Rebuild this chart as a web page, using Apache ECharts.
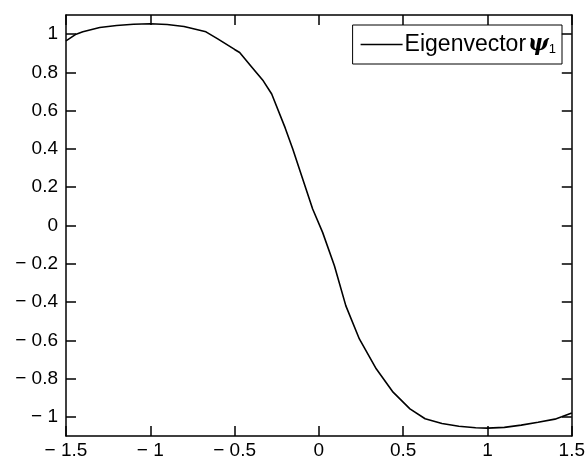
<!DOCTYPE html>
<html>
<head>
<meta charset="utf-8">
<script src="https://cdn.jsdelivr.net/npm/echarts@6/dist/echarts.min.js"></script>
<style>
html, body { margin: 0; padding: 0; background: #fff; }
#main { width: 588px; height: 461px; }
</style>
</head>
<body>
<div id="main"></div>
<script>
// x positions along the curve
var xVals = [-1.5, -1.44, -1.4, -1.3, -1.2, -1.1, -1.0, -0.9, -0.8, -0.67, -0.6, -0.5, -0.47, -0.4, -0.33, -0.28, -0.2, -0.155, -0.1, -0.037, 0.022, 0.092, 0.16, 0.24, 0.34, 0.44, 0.54, 0.63, 0.73, 0.83, 0.93, 1.0, 1.1, 1.2, 1.3, 1.4, 1.44, 1.5];
// eigenvector values
var psiVals = [0.965, 1.0, 1.012, 1.035, 1.045, 1.052, 1.054, 1.05, 1.04, 1.012, 0.975, 0.92, 0.904, 0.83, 0.756, 0.687, 0.51, 0.40, 0.254, 0.086, -0.036, -0.21, -0.42, -0.593, -0.749, -0.871, -0.958, -1.01, -1.035, -1.049, -1.057, -1.059, -1.055, -1.043, -1.028, -1.012, -1.0, -0.98];
var yTicks = [-1, -0.8, -0.6, -0.4, -0.2, 0, 0.2, 0.4, 0.6, 0.8, 1];

var data = xVals.map(function (x, i) { return [x, psiVals[i]]; });

function fmt(v) {
    var s = String(Math.round(Math.abs(v) * 10) / 10);
    return v < 0 ? '\u2212 ' + s : s;
}

var font = 'Liberation Sans, Arial, Helvetica, sans-serif';
var axisLine = { show: true, onZero: false, lineStyle: { color: '#000', width: 1.5 } };
var tick = { inside: true, length: 10, lineStyle: { color: '#000', width: 1.5 } };

var option = {
    animation: false,
    backgroundColor: '#fff',
    grid: { left: 66, right: 15, top: 15, bottom: 25 },
    legend: {
        right: 26,
        top: 25,
        padding: [8, 6, 8, 8],
        borderColor: '#000',
        borderWidth: 1,
        itemWidth: 42,
        itemHeight: 1.5,
        itemGap: 0,
        icon: 'rect',
        data: ['psi'],
        formatter: function () { return '{a|Eigenvector}{b|ψ}{c|1}'; },
        textStyle: {
            color: '#000',
            fontFamily: font,
            fontSize: 23,
            padding: [0, 0, 0, -3],
            rich: {
                a: { fontSize: 23, fontFamily: font, color: '#000' },
                b: { fontSize: 22, fontFamily: 'DejaVu Serif, serif', fontWeight: 'bold', fontStyle: 'italic', color: '#000', padding: [0, 0, 0, 2] },
                c: { fontSize: 13, fontFamily: font, color: '#000', padding: [10, 0, 0, 0] }
            }
        }
    },
    xAxis: [
        {
            type: 'value', min: -1.5, max: 1.5, interval: 0.5,
            axisLine: axisLine,
            axisTick: tick,
            axisLabel: { color: '#000', fontSize: 19, fontFamily: font, margin: 5, formatter: fmt, showMinLabel: true, showMaxLabel: true },
            splitLine: { show: false }
        },
        {
            type: 'value', position: 'top', min: -1.5, max: 1.5, interval: 0.5,
            axisLine: axisLine,
            axisTick: tick,
            axisLabel: { show: false },
            splitLine: { show: false }
        }
    ],
    yAxis: [
        {
            type: 'value', min: -1.1, max: 1.1,
            axisLine: axisLine,
            axisTick: { inside: true, length: 10, customValues: yTicks, lineStyle: { color: '#000', width: 1.5 } },
            axisLabel: { color: '#000', fontSize: 19, fontFamily: font, margin: 8, customValues: yTicks, formatter: fmt },
            splitLine: { show: false }
        },
        {
            type: 'value', position: 'right', min: -1.1, max: 1.1,
            axisLine: axisLine,
            axisTick: { inside: true, length: 10, customValues: yTicks, lineStyle: { color: '#000', width: 1.5 } },
            axisLabel: { show: false, customValues: yTicks },
            splitLine: { show: false }
        }
    ],
    series: [
        {
            name: 'psi',
            type: 'line',
            xAxisIndex: 0,
            yAxisIndex: 0,
            data: data,
            symbol: 'none',
            lineStyle: { color: '#000', width: 1.6 },
            itemStyle: { color: '#000' }
        }
    ]
};

var myChart = echarts.init(document.getElementById('main'));
myChart.setOption(option);
</script>
</body>
</html>
